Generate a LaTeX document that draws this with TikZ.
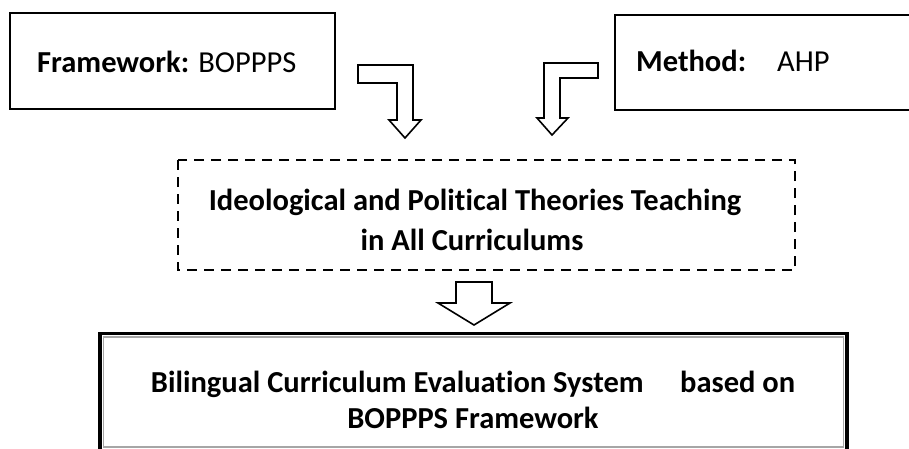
\documentclass[tikz,border=0pt]{standalone}
\usepackage{fontspec}
\setmainfont{Carlito}[Ligatures=NoCommon]
\begin{document}
\begin{tikzpicture}[x=1pt,y=-1pt,
  box/.style={draw=black,line width=2pt},
  dashbox/.style={draw=black,line width=2.4pt,dash pattern=on 10pt off 7pt},
  blockarrow/.style={draw=black,line width=1.6pt,fill=white,line join=miter},
  label/.style={font=\fontsize{30.5}{36}\selectfont,inner sep=0pt},
  boldlabel/.style={label,font=\fontsize{30.5}{36}\selectfont\bfseries}]
\useasboundingbox (0,0) rectangle (909,448);
\clip (0,0) rectangle (909,448);

% input boxes
\draw[box] (10,13) rectangle (335,109);
\draw[box] (615,15) rectangle (920,110);
\node[label,anchor=base west] (fw) at (37,72) {\textbf{Framework:} BOPPPS};
\node[label,anchor=base west] (mt) at (636,71) {\textbf{Method:}};
\node[label,anchor=base west] (ahp) at (777,71) {AHP};

% bent arrows into the middle box
\draw[blockarrow] (358,65) -- (413,65) -- (413,120) -- (421,120) -- (405,138)
  -- (389,120) -- (397,120) -- (397,83) -- (358,83) -- cycle;
\draw[blockarrow] (598,63) -- (598,78) -- (560,78) -- (560,118) -- (568,118)
  -- (552,135) -- (537,118) -- (544,118) -- (544,63) -- cycle;

% middle dashed box
\draw[dashbox] (178,160) rectangle (795,270);
\node[boldlabel,anchor=base] (mid1) at (475,210) {Ideological and Political Theories Teaching};
\node[boldlabel,anchor=base] (mid2) at (472,250) {in All Curriculums};

% arrow down to the result box
\draw[blockarrow] (456,282) -- (492,282) -- (492,303) -- (510,303) -- (474,325)
  -- (438,303) -- (456,303) -- cycle;

% result box: heavy outer line with a thin grey inner line
\draw[draw=black,line width=3.5pt] (100,333.5) rectangle (847,460);
\draw[draw=gray!70,line width=1.2pt] (103.5,337) rectangle (843.5,447);
\node[boldlabel,anchor=base] (res1) at (473,392) {Bilingual Curriculum Evaluation System\hspace{1.2em}based on};
\node[boldlabel,anchor=base] (res2) at (473,428) {BOPPPS Framework};
\end{tikzpicture}
\end{document}
